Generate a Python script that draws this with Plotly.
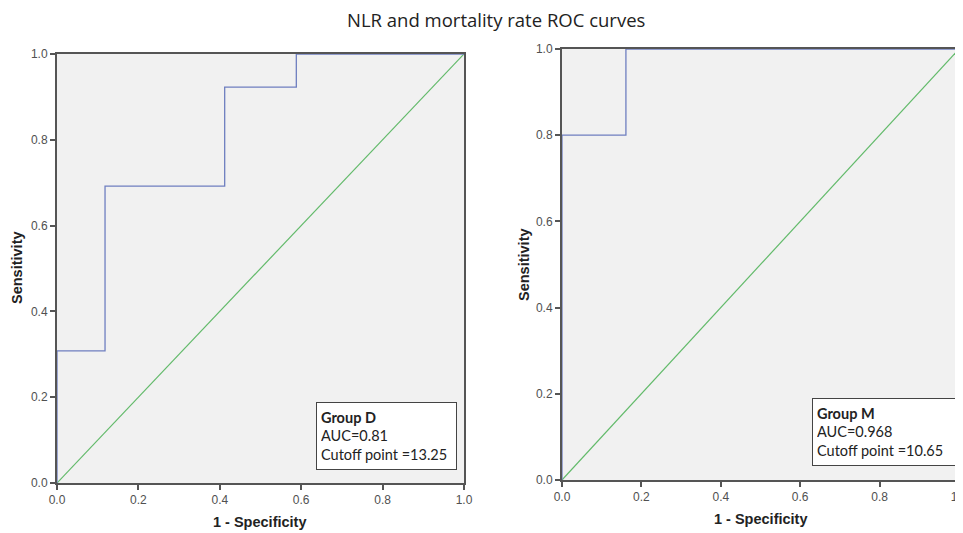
import plotly.graph_objects as go

W, H = 963, 533
OFF = 8  # page offset of the figure (browser body margin)

# Data
d_fpr = [0.0, 0.0, 0.118, 0.118, 0.412, 0.412, 0.588, 0.588, 1.0]
d_tpr = [0.0, 0.308, 0.308, 0.692, 0.692, 0.923, 0.923, 1.0, 1.0]
m_fpr = [0.0, 0.0, 0.161, 0.161, 1.0]
m_tpr = [0.0, 0.8, 0.8, 1.0, 1.0]
ref_line = [0.0, 1.0]
tick_vals = [0.0, 0.2, 0.4, 0.6, 0.8, 1.0]
tick_text = ["0.0", "0.2", "0.4", "0.6", "0.8", "1.0"]
box_d = "<b>Group D</b><br>AUC=0.81<br>Cutoff point =13.25"
box_m = "<b>Group M</b><br>AUC=0.968<br>Cutoff point =10.65"

curve_color = "#6f7fc0"
diag_color = "#62ba6a"

fig = go.Figure()
fig.add_trace(go.Scatter(x=ref_line, y=ref_line, mode="lines", line=dict(color=diag_color, width=1.2), xaxis="x", yaxis="y", showlegend=False))
fig.add_trace(go.Scatter(x=d_fpr, y=d_tpr, mode="lines", line=dict(color=curve_color, width=1.3), xaxis="x", yaxis="y", showlegend=False))
fig.add_trace(go.Scatter(x=ref_line, y=ref_line, mode="lines", line=dict(color=diag_color, width=1.2), xaxis="x2", yaxis="y2", showlegend=False))
fig.add_trace(go.Scatter(x=m_fpr, y=m_tpr, mode="lines", line=dict(color=curve_color, width=1.3), xaxis="x2", yaxis="y2", showlegend=False))

def px_x(p):
    return (p - OFF) / W

def px_y(p):
    return 1 - (p - OFF) / H

axis_common = dict(
    range=[0, 1], tickvals=tick_vals, ticktext=tick_text, ticks="outside", ticklen=5,
    tickcolor="#555555", tickwidth=1.5, showgrid=False, zeroline=False,
    showline=True, linecolor="#555555", linewidth=2, mirror=True, automargin=False,
    tickfont=dict(family="Liberation Sans", size=12, color="#505050"),
)

title_font = dict(family="Liberation Sans", size=14.5, color="#222222")
box_font = dict(family="Lato", size=14.5, color="#222222")

def label(text, x, y, font, angle=0):
    return dict(text=text, x=px_x(x), y=px_y(y), xref="paper", yref="paper",
                xanchor="center", yanchor="middle", showarrow=False, textangle=angle, font=font)

fig.update_layout(
    width=W, height=H,
    margin=dict(l=0, r=0, t=0, b=0, autoexpand=False),
    paper_bgcolor="white",
    plot_bgcolor="#f1f1f1",
    xaxis=dict(domain=[px_x(57), px_x(464)], anchor="y", **axis_common),
    yaxis=dict(domain=[px_y(483), px_y(54)], anchor="x", **axis_common),
    xaxis2=dict(domain=[px_x(562), px_x(959)], anchor="y2", **axis_common),
    yaxis2=dict(domain=[px_y(480), px_y(49)], anchor="x2", **axis_common),
    annotations=[
        label("NLR and mortality rate ROC curves", 496, 20, dict(family="Open Sans", size=18.5, color="#222222")),
        label("<b>1 - Specificity</b>", 260, 522, title_font),
        label("<b>1 - Specificity</b>", 760, 519, title_font),
        label("<b>Sensitivity</b>", 17, 268, title_font, -90),
        label("<b>Sensitivity</b>", 524, 265, title_font, -90),
        dict(text=box_d, x=px_x(316), y=px_y(402), xref="paper", yref="paper", xanchor="left", yanchor="top",
             showarrow=False, align="left", bgcolor="white", bordercolor="#444444", borderwidth=1, borderpad=4,
             font=box_font, width=131, height=58),
        dict(text=box_m, x=px_x(812), y=px_y(398), xref="paper", yref="paper", xanchor="left", yanchor="top",
             showarrow=False, align="left", bgcolor="white", bordercolor="#444444", borderwidth=1, borderpad=4,
             font=box_font, width=138, height=58),
    ],
)

fig.write_html("out.html")
